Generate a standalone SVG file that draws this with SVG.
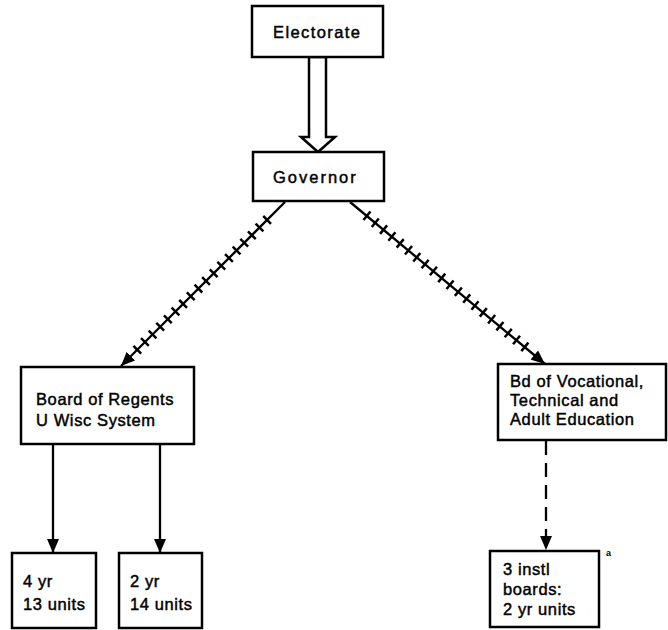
<svg xmlns="http://www.w3.org/2000/svg" width="668" height="630" viewBox="0 0 668 630">
<defs>
<style>
.box{fill:#fff;stroke:#000;stroke-width:2.5}
.t{font-family:"Liberation Sans",Arial,sans-serif;font-size:16.5px;fill:#000;stroke:#000;stroke-width:0.45px;letter-spacing:0.6px}
.ln{stroke:#000;stroke-width:2.3;fill:none}
.tick{stroke:#000;stroke-width:11;fill:none;stroke-dasharray:2.5 8.3}
</style>
<marker id="ah" markerUnits="userSpaceOnUse" markerWidth="15" markerHeight="13" refX="14" refY="6" orient="auto" viewBox="0 0 15 12">
<path d="M0,0 L14,6 L0,12 z" fill="#000"/>
</marker>
</defs>
<rect width="668" height="630" fill="#fff"/>
<g id="connectors">
<polygon points="309,57 309,137 301,137 318,152 335,137 326,137 326,57" fill="#fff" stroke="#000" stroke-width="2.5"/>
<line class="ln" x1="285" y1="202" x2="121" y2="366" marker-end="url(#ah)"/>
<line class="tick" x1="268" y1="219" x2="133" y2="354"/>
<line class="ln" x1="350" y1="202" x2="545" y2="364" marker-end="url(#ah)"/>
<line class="tick" x1="366" y1="215" x2="531" y2="352"/>
<line class="ln" x1="53" y1="444" x2="53" y2="553" marker-end="url(#ah)"/>
<line class="ln" x1="160" y1="444" x2="160" y2="553" marker-end="url(#ah)"/>
<line class="ln" x1="546" y1="441" x2="546" y2="550" stroke-dasharray="14 8" stroke-width="2.5" marker-end="url(#ah)"/>
</g>
<g id="electorate">
<rect class="box" x="252" y="6" width="131" height="51"/>
<text class="t" x="273" y="38" style="letter-spacing:1.4px">Electorate</text>
</g>
<g id="governor">
<rect class="box" x="253" y="152" width="131" height="49"/>
<text class="t" x="273" y="183" style="letter-spacing:2px">Governor</text>
</g>
<g id="regents">
<rect class="box" x="21" y="367" width="173" height="77"/>
<text class="t" x="36" y="405">Board of Regents</text>
<text class="t" x="36" y="426">U Wisc System</text>
</g>
<g id="vocational">
<rect class="box" x="498" y="364" width="168" height="76"/>
<text class="t" x="510" y="387">Bd of Vocational,</text>
<text class="t" x="510" y="406">Technical and</text>
<text class="t" x="510" y="425">Adult Education</text>
</g>
<g id="fouryr">
<rect class="box" x="12" y="553" width="84" height="75"/>
<text class="t" x="23" y="587">4 yr</text>
<text class="t" x="23" y="610">13 units</text>
</g>
<g id="twoyr">
<rect class="box" x="119" y="553" width="83" height="75"/>
<text class="t" x="130" y="587">2 yr</text>
<text class="t" x="130" y="610">14 units</text>
</g>
<g id="instl">
<rect class="box" x="490" y="551" width="109" height="76"/>
<text class="t" x="503" y="575">3 instl</text>
<text class="t" x="503" y="595">boards:</text>
<text class="t" x="503" y="615">2 yr units</text>
<text x="606" y="556" style="font-family:'Liberation Sans',Arial,sans-serif;font-size:9px;font-weight:bold">a</text>
</g>
</svg>
